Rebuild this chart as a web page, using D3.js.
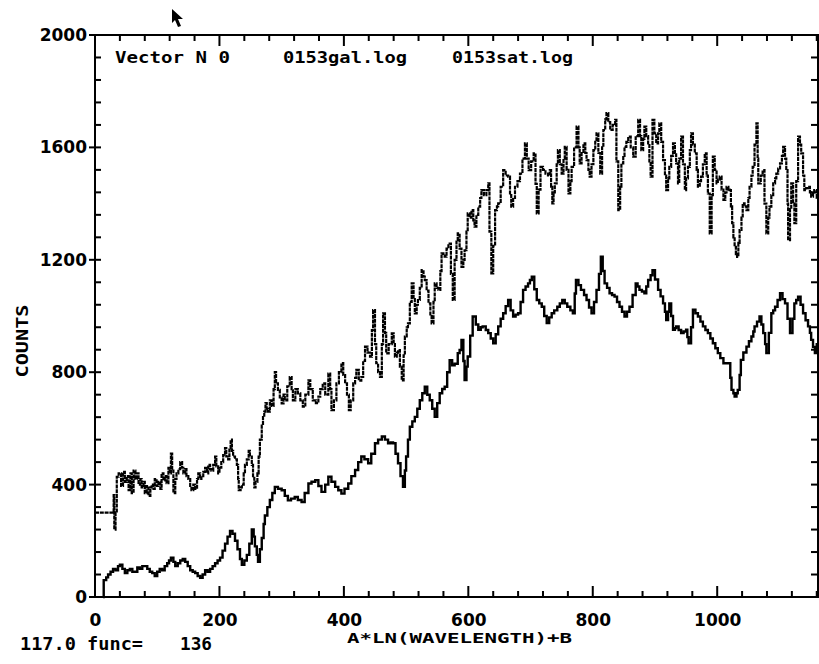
<!DOCTYPE html>
<html>
<head>
<meta charset="utf-8">
<script src="https://cdn.jsdelivr.net/npm/d3@7"></script>
<style>
  body { margin: 0; background: #fff; }
  svg { display: block; }
</style>
</head>
<body>
<svg></svg>
<script>
// chart values: [x, counts]
let galData = [[0,300],[29,300],[30,363],[31,240],[33,300],[35,428],[38,440],[42,395],[45,445],[48,410],[51,430],[54,380],[57,440],[59,370],[62,450],[65,420],[67,440],[70,400],[73,420],[75,390],[78,410],[80,370],[83,395],[86,360],[89,390],[91,400],[94,385],[96,420],[99,395],[102,410],[105,385],[107,440],[110,415],[112,430],[115,405],[118,460],[120,440],[122,510],[124,450],[126,370],[129,420],[131,440],[134,455],[137,480],[140,460],[142,440],[145,455],[147,430],[150,420],[153,395],[155,380],[158,400],[161,385],[164,420],[166,440],[169,420],[171,430],[174,445],[177,460],[180,440],[182,470],[185,455],[187,450],[190,470],[193,500],[195,465],[198,440],[200,460],[203,480],[206,505],[209,530],[211,500],[214,490],[216,530],[218,560],[220,520],[222,500],[225,490],[228,470],[230,420],[231,380],[234,390],[236,400],[239,440],[241,470],[244,490],[247,520],[249,500],[252,470],[254,430],[256,390],[258,410],[261,440],[263,500],[265,560],[268,610],[270,640],[272,660],[274,690],[276,670],[278,660],[281,700],[284,680],[287,740],[289,800],[291,760],[294,737],[297,710],[300,689],[303,720],[305,700],[309,750],[313,783],[316,740],[318,700],[322,740],[326,725],[330,700],[334,677],[338,720],[343,771],[346,740],[350,700],[355,690],[359,713],[362,740],[366,760],[370,720],[375,795],[378,740],[380,665],[384,700],[388,760],[392,800],[396,832],[399,790],[402,760],[405,720],[408,665],[411,700],[415,760],[418,780],[420,808],[424,770],[428,783],[431,840],[434,891],[438,870],[442,855],[445,950],[447,1021],[450,900],[452,832],[455,800],[458,783],[461,900],[463,1009],[466,940],[468,867],[472,900],[477,938],[480,900],[482,855],[485,870],[487,879],[490,820],[493,771],[496,860],[498,927],[501,960],[503,974],[506,1050],[509,1116],[512,1060],[514,1009],[517,1040],[519,1057],[522,1100],[525,1163],[528,1140],[530,1128],[533,1090],[536,1045],[539,1000],[541,974],[544,1050],[546,1116],[549,1100],[552,1093],[555,1160],[557,1223],[560,1215],[562,1211],[565,1240],[568,1258],[572,1150],[575,1057],[578,1200],[581,1270],[583,1294],[586,1240],[589,1175],[592,1200],[594,1234],[597,1300],[599,1365],[602,1350],[605,1377],[608,1340],[610,1318],[613,1360],[616,1389],[619,1420],[621,1448],[625,1430],[629,1448],[632,1472],[634,1300],[637,1152],[640,1250],[643,1377],[646,1390],[648,1401],[652,1460],[656,1519],[660,1500],[664,1496],[667,1430],[669,1389],[672,1420],[675,1460],[679,1480],[683,1507],[687,1560],[691,1614],[694,1560],[697,1519],[701,1550],[705,1579],[708,1470],[710,1365],[713,1450],[716,1531],[720,1520],[724,1507],[728,1500],[731,1519],[733,1460],[735,1401],[737,1440],[739,1472],[742,1540],[744,1590],[747,1540],[750,1507],[753,1560],[755,1602],[758,1520],[761,1436],[764,1480],[766,1531],[770,1600],[774,1674],[777,1600],[779,1543],[782,1580],[785,1614],[788,1580],[790,1555],[793,1520],[795,1496],[798,1540],[801,1590],[804,1620],[806,1650],[809,1580],[812,1507],[815,1600],[817,1662],[820,1700],[822,1722],[825,1690],[828,1662],[832,1680],[836,1698],[838,1550],[841,1377],[844,1460],[846,1543],[849,1570],[851,1602],[854,1620],[857,1638],[861,1600],[865,1567],[869,1640],[873,1698],[876,1640],[878,1590],[881,1630],[883,1674],[886,1640],[889,1614],[891,1550],[893,1496],[896,1698],[899,1650],[902,1614],[905,1650],[907,1686],[910,1620],[913,1555],[916,1500],[918,1448],[921,1490],[923,1531],[926,1570],[929,1614],[932,1580],[934,1543],[937,1472],[939,1560],[942,1638],[945,1540],[948,1448],[950,1490],[953,1531],[956,1590],[958,1650],[961,1610],[964,1579],[967,1520],[969,1460],[972,1480],[974,1496],[977,1540],[980,1579],[983,1500],[985,1436],[988,1294],[991,1430],[993,1567],[996,1520],[999,1472],[1001,1485],[1004,1496],[1007,1450],[1010,1413],[1013,1440],[1015,1460],[1018,1450],[1020,1448],[1022,1390],[1024,1330],[1026,1280],[1028,1246],[1030,1220],[1032,1210],[1034,1260],[1036,1306],[1039,1350],[1041,1401],[1044,1390],[1047,1377],[1050,1420],[1052,1460],[1055,1500],[1057,1531],[1060,1610],[1063,1686],[1065,1560],[1066,1472],[1070,1500],[1073,1519],[1076,1400],[1079,1294],[1082,1350],[1084,1389],[1087,1430],[1090,1472],[1093,1490],[1095,1507],[1098,1525],[1101,1543],[1104,1570],[1106,1602],[1109,1560],[1111,1519],[1113,1400],[1114,1270],[1117,1380],[1119,1472],[1122,1400],[1124,1330],[1127,1480],[1130,1638],[1133,1610],[1135,1579],[1138,1500],[1140,1448],[1143,1455],[1146,1460],[1149,1440],[1151,1425],[1154,1440],[1156,1448],[1160,1420],[1163,1401]];

let satData = [[13,0],[14,60],[18,70],[21,80],[25,90],[29,100],[33,95],[37,110],[40,115],[44,100],[48,85],[52,95],[56,100],[60,90],[64,90],[68,105],[72,100],[76,110],[80,110],[84,100],[88,90],[92,85],[96,75],[100,90],[104,100],[108,95],[112,110],[116,120],[119,130],[122,140],[126,125],[129,110],[133,120],[137,130],[141,135],[145,125],[149,110],[153,95],[157,90],[161,85],[165,75],[169,68],[173,80],[177,95],[181,90],[185,100],[189,110],[193,120],[197,130],[201,140],[205,165],[209,190],[213,215],[217,235],[221,225],[225,200],[229,170],[233,135],[236,115],[240,130],[244,150],[248,190],[252,240],[255,215],[257,180],[260,150],[262,125],[265,170],[268,210],[271,260],[273,290],[277,320],[281,345],[285,370],[289,392],[294,385],[300,380],[305,360],[310,344],[315,350],[321,356],[326,345],[332,338],[337,370],[343,404],[348,410],[354,416],[359,395],[364,374],[370,400],[375,428],[380,410],[386,392],[391,380],[396,368],[401,385],[407,404],[412,430],[418,452],[423,480],[428,500],[433,490],[439,476],[444,510],[450,547],[455,560],[461,571],[466,560],[471,547],[475,550],[479,547],[483,510],[487,476],[491,430],[495,392],[498,450],[500,500],[503,560],[506,606],[510,625],[514,641],[518,670],[522,700],[526,725],[530,748],[534,720],[538,700],[542,670],[546,641],[550,690],[554,725],[558,740],[562,748],[566,800],[570,843],[574,825],[578,830],[583,868],[586,879],[589,915],[592,840],[594,772],[597,820],[599,856],[603,930],[607,998],[612,970],[616,951],[620,960],[623,963],[628,950],[632,939],[636,920],[640,903],[644,935],[648,963],[652,990],[656,1010],[660,1035],[664,1057],[668,1020],[672,998],[676,1005],[680,1010],[684,1050],[688,1093],[692,1105],[696,1116],[699,1128],[702,1140],[706,1095],[710,1057],[714,1045],[718,1033],[722,1000],[726,975],[730,995],[734,1010],[738,1020],[743,1033],[747,1045],[751,1057],[755,1045],[759,1033],[764,1020],[768,1010],[771,1080],[773,1128],[777,1110],[781,1093],[786,1075],[790,1057],[794,1030],[798,1010],[802,1050],[806,1093],[810,1150],[813,1211],[816,1160],[819,1116],[823,1100],[827,1081],[831,1075],[835,1069],[839,1050],[843,1033],[847,1015],[851,998],[855,1015],[859,1033],[864,1075],[869,1116],[872,1105],[875,1093],[879,1087],[883,1081],[886,1105],[889,1128],[893,1145],[896,1163],[900,1130],[905,1093],[909,1070],[913,1045],[916,1015],[918,986],[921,1015],[923,1045],[926,1000],[929,951],[932,957],[934,963],[938,950],[942,939],[946,945],[950,951],[952,925],[954,903],[958,960],[961,1022],[965,1010],[969,998],[973,980],[977,963],[981,950],[985,939],[989,920],[993,903],[997,885],[1001,868],[1005,850],[1010,832],[1014,832],[1018,832],[1021,780],[1023,737],[1026,725],[1028,713],[1031,725],[1033,737],[1036,790],[1038,844],[1042,870],[1047,891],[1051,910],[1055,927],[1058,945],[1060,963],[1064,980],[1068,998],[1071,970],[1074,939],[1077,900],[1079,868],[1083,940],[1087,1010],[1090,1020],[1093,1033],[1097,1057],[1101,1081],[1105,1060],[1109,1045],[1113,990],[1117,939],[1121,990],[1124,1045],[1127,1057],[1130,1069],[1134,1040],[1138,1010],[1142,985],[1146,963],[1149,940],[1151,915],[1154,890],[1157,868],[1160,900],[1163,939]];

let xTickLabels = [0, 200, 400, 600, 800, 1000];
let yTickLabels = [0, 400, 800, 1200, 1600, 2000];
let headerTexts = ['Vector N 0', '0153gal.log', '0153sat.log'];

let width = 819;
let height = 664;
let plotLeft = 95, plotRight = 818, plotTop = 35, plotBottom = 597;

let svg = d3.select('svg')
    .attr('width', width)
    .attr('height', height);

let xScale = d3.scaleLinear().domain([0, 1162]).range([plotLeft, plotRight]);
let yScale = d3.scaleLinear().domain([0, 2000]).range([plotBottom, plotTop]);

let ink = '#000';
let monoFont = '"DejaVu Sans Mono", monospace';
let sansFont = '"DejaVu Sans", sans-serif';
let plain = d3.format('d');

// frame
svg.append('rect')
    .attr('x', plotLeft).attr('y', plotTop)
    .attr('width', plotRight - plotLeft).attr('height', plotBottom - plotTop)
    .attr('fill', 'none').attr('stroke', ink).attr('stroke-width', 2);

let minorX = d3.range(0, 1162, 40);
let minorY = d3.range(0, 2001, 80);

// tick marks, drawn as thin filled bars pointing into the plot
let tickG = svg.append('g').attr('fill', ink);

tickG.selectAll('.xb')
    .data(minorX)
    .enter().append('rect')
    .attr('x', d => xScale(d) - 1)
    .attr('y', d => plotBottom - (d % 200 === 0 ? 11 : 6))
    .attr('width', 2)
    .attr('height', d => d % 200 === 0 ? 11 : 6);

tickG.selectAll('.xt')
    .data(minorX)
    .enter().append('rect')
    .attr('x', d => xScale(d) - 1)
    .attr('y', plotTop)
    .attr('width', 2)
    .attr('height', d => d % 200 === 0 ? 11 : 6);

tickG.selectAll('.yl')
    .data(minorY)
    .enter().append('rect')
    .attr('x', d => plotLeft - (d % 400 === 0 ? 6 : 0))
    .attr('y', d => yScale(d) - 1)
    .attr('width', d => d % 400 === 0 ? 12 : 6)
    .attr('height', 2);

tickG.selectAll('.yr')
    .data(minorY)
    .enter().append('rect')
    .attr('x', plotRight - 7)
    .attr('y', d => yScale(d) - 1)
    .attr('width', 7)
    .attr('height', 2);

// tick labels through the library's axes
svg.append('g').attr('transform', `translate(0,${plotBottom})`)
    .call(d3.axisBottom(xScale).tickValues(xTickLabels).tickSize(0).tickPadding(17).tickFormat(plain))
    .call(g => g.select('.domain').remove())
    .call(g => g.selectAll('text')
        .attr('font-family', sansFont).attr('font-weight', 'bold')
        .attr('font-size', 17).attr('fill', ink));

svg.append('g').attr('transform', `translate(${plotLeft},0)`)
    .call(d3.axisLeft(yScale).tickValues(yTickLabels).tickSize(0).tickPadding(8).tickFormat(plain))
    .call(g => g.select('.domain').remove())
    .call(g => g.selectAll('text')
        .attr('font-family', sansFont).attr('font-weight', 'bold')
        .attr('font-size', 17).attr('fill', ink));

// series
let line = d3.line()
    .x(d => xScale(d[0]))
    .y(d => yScale(d[1]))
    .curve(d3.curveStepAfter);

svg.append('path')
    .datum(galData)
    .attr('d', line)
    .attr('fill', 'none')
    .attr('stroke', ink)
    .attr('stroke-width', 2.2)
    .attr('stroke-dasharray', '4,0.8');

svg.append('path')
    .datum(satData)
    .attr('d', line)
    .attr('fill', 'none')
    .attr('stroke', ink)
    .attr('stroke-width', 2.4);

// header inside the plot
let headerX = [115, 283, 452];
let headerW = [115, 124, 121];
svg.selectAll('.header')
    .data(headerTexts)
    .enter()
    .append('text')
    .attr('class', 'header')
    .attr('x', (d, i) => headerX[i])
    .attr('y', 63)
    .attr('textLength', (d, i) => headerW[i])
    .attr('lengthAdjust', 'spacingAndGlyphs')
    .attr('font-family', monoFont).attr('font-weight', 'bold')
    .attr('font-size', 16).attr('fill', ink)
    .text(d => d);

// axis titles
svg.append('text')
    .attr('x', 347).attr('y', 643)
    .attr('textLength', 225).attr('lengthAdjust', 'spacingAndGlyphs')
    .attr('font-family', monoFont).attr('font-weight', 'bold')
    .attr('font-size', 14).attr('fill', ink)
    .text('A*LN(WAVELENGTH)+B');

svg.append('text')
    .attr('transform', 'translate(28,341) rotate(-90)')
    .attr('text-anchor', 'middle')
    .attr('textLength', 73).attr('lengthAdjust', 'spacingAndGlyphs')
    .attr('font-family', monoFont).attr('font-weight', 'bold')
    .attr('font-size', 16).attr('fill', ink)
    .text('COUNTS');

// status line
svg.append('text')
    .attr('x', 20).attr('y', 650)
    .attr('textLength', 123).attr('lengthAdjust', 'spacingAndGlyphs')
    .attr('font-family', monoFont).attr('font-weight', 'bold')
    .attr('font-size', 17).attr('fill', ink)
    .text('117.0 func=');
svg.append('text')
    .attr('x', 180).attr('y', 650)
    .attr('textLength', 32).attr('lengthAdjust', 'spacingAndGlyphs')
    .attr('font-family', monoFont).attr('font-weight', 'bold')
    .attr('font-size', 17).attr('fill', ink)
    .text('136');

// mouse pointer left on the screen
svg.append('path')
    .attr('d', 'M172,9 L172,23 L175,20 L178,27 L181,26 L178,19 L183,19 Z')
    .attr('fill', ink);
</script>
</body>
</html>
